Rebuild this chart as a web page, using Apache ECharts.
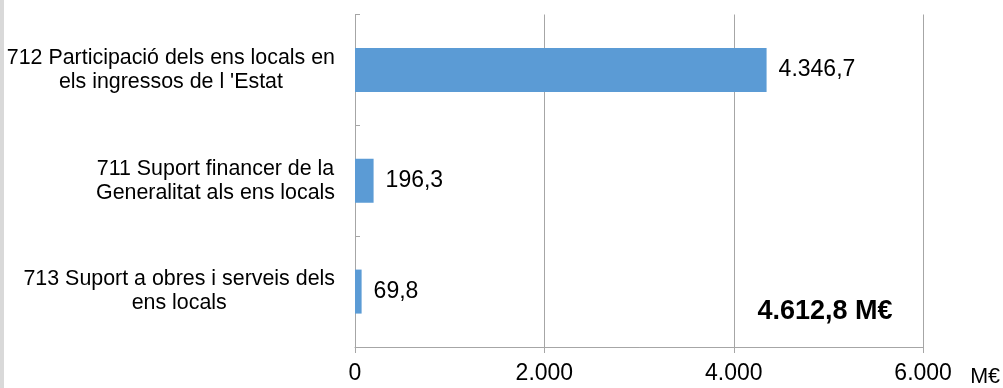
<!DOCTYPE html>
<html>
<head>
<meta charset="utf-8">
<script src="https://cdn.jsdelivr.net/npm/echarts@6/dist/echarts.min.js"></script>
<style>
  html, body { margin: 0; padding: 0; background: #fff; }
  #chart { width: 1003px; height: 388px; }
</style>
</head>
<body>
<div id="chart"></div>
<script>
const categories = [
  "712 Participació dels ens locals en\nels ingressos de l 'Estat",
  "711 Suport financer de la\nGeneralitat als ens locals",
  "713 Suport a obres i serveis dels\nens locals"
];
const values = [4346.7, 196.3, 69.8];
const xTicks = [0, 2000, 4000, 6000];
const totalLabel = "4.612,8 M€";
const unitLabel = "M€";

const FONT = "'Liberation Sans', Arial, sans-serif";

function fmt(v, decimals) {
  const parts = v.toFixed(decimals).split('.');
  parts[0] = parts[0].replace(/\B(?=(\d{3})+(?!\d))/g, '.');
  return parts.join(',');
}

const chart = echarts.init(document.getElementById('chart'), null, { renderer: 'canvas' });
chart.setOption({
  animation: false,
  backgroundColor: '#ffffff',
  grid: { left: 355, right: 78, top: 14.5, bottom: 39.5, containLabel: false },
  xAxis: {
    type: 'value',
    min: xTicks[0],
    max: xTicks[xTicks.length - 1],
    interval: xTicks[1] - xTicks[0],
    name: unitLabel,
    nameLocation: 'end',
    nameGap: 47,
    nameTextStyle: { fontFamily: FONT, fontSize: 21.5, color: '#000', verticalAlign: 'top', padding: [19, 0, 0, 0] },
    axisLine: { show: true, lineStyle: { color: '#a6a6a6', width: 1 } },
    axisTick: { show: true, length: 6, lineStyle: { color: '#a6a6a6' } },
    axisLabel: { fontFamily: FONT, fontSize: 23, color: '#000', margin: 15, formatter: v => fmt(v, 0) },
    splitLine: { show: true, lineStyle: { color: '#a6a6a6', width: 1 } }
  },
  yAxis: {
    type: 'category',
    data: categories,
    inverse: true,
    axisLine: { show: true, lineStyle: { color: '#a6a6a6', width: 1 } },
    axisTick: { show: true, inside: true, length: 5, alignWithLabel: false, lineStyle: { color: '#a6a6a6' } },
    axisLabel: {
      fontFamily: FONT, fontSize: 21.4, color: '#000', margin: 20, align: 'right',
      formatter: v => v.split('\n').map(s => '{c|' + s + '}').join('\n'),
      rich: { c: { align: 'center', fontFamily: FONT, fontSize: 21.4, lineHeight: 24, color: '#000' } }
    },
    splitLine: { show: false }
  },
  series: [{
    type: 'bar',
    data: values,
    barWidth: 44,
    itemStyle: { color: '#5B9BD5' },
    label: {
      show: true, position: 'right', distance: 12,
      fontFamily: FONT, fontSize: 23, color: '#000',
      formatter: p => fmt(p.value, 1)
    }
  }],
  graphic: [
    { type: 'rect', left: 0, top: 0, shape: { width: 4, height: 388 }, style: { fill: '#d9d9d9' }, silent: true },
    { type: 'text', x: 825, y: 312, style: { text: totalLabel, fontFamily: FONT, fontSize: 27, fontWeight: 'bold', fill: '#000', textAlign: 'center', textVerticalAlign: 'middle' } }
  ]
});
</script>
</body>
</html>
